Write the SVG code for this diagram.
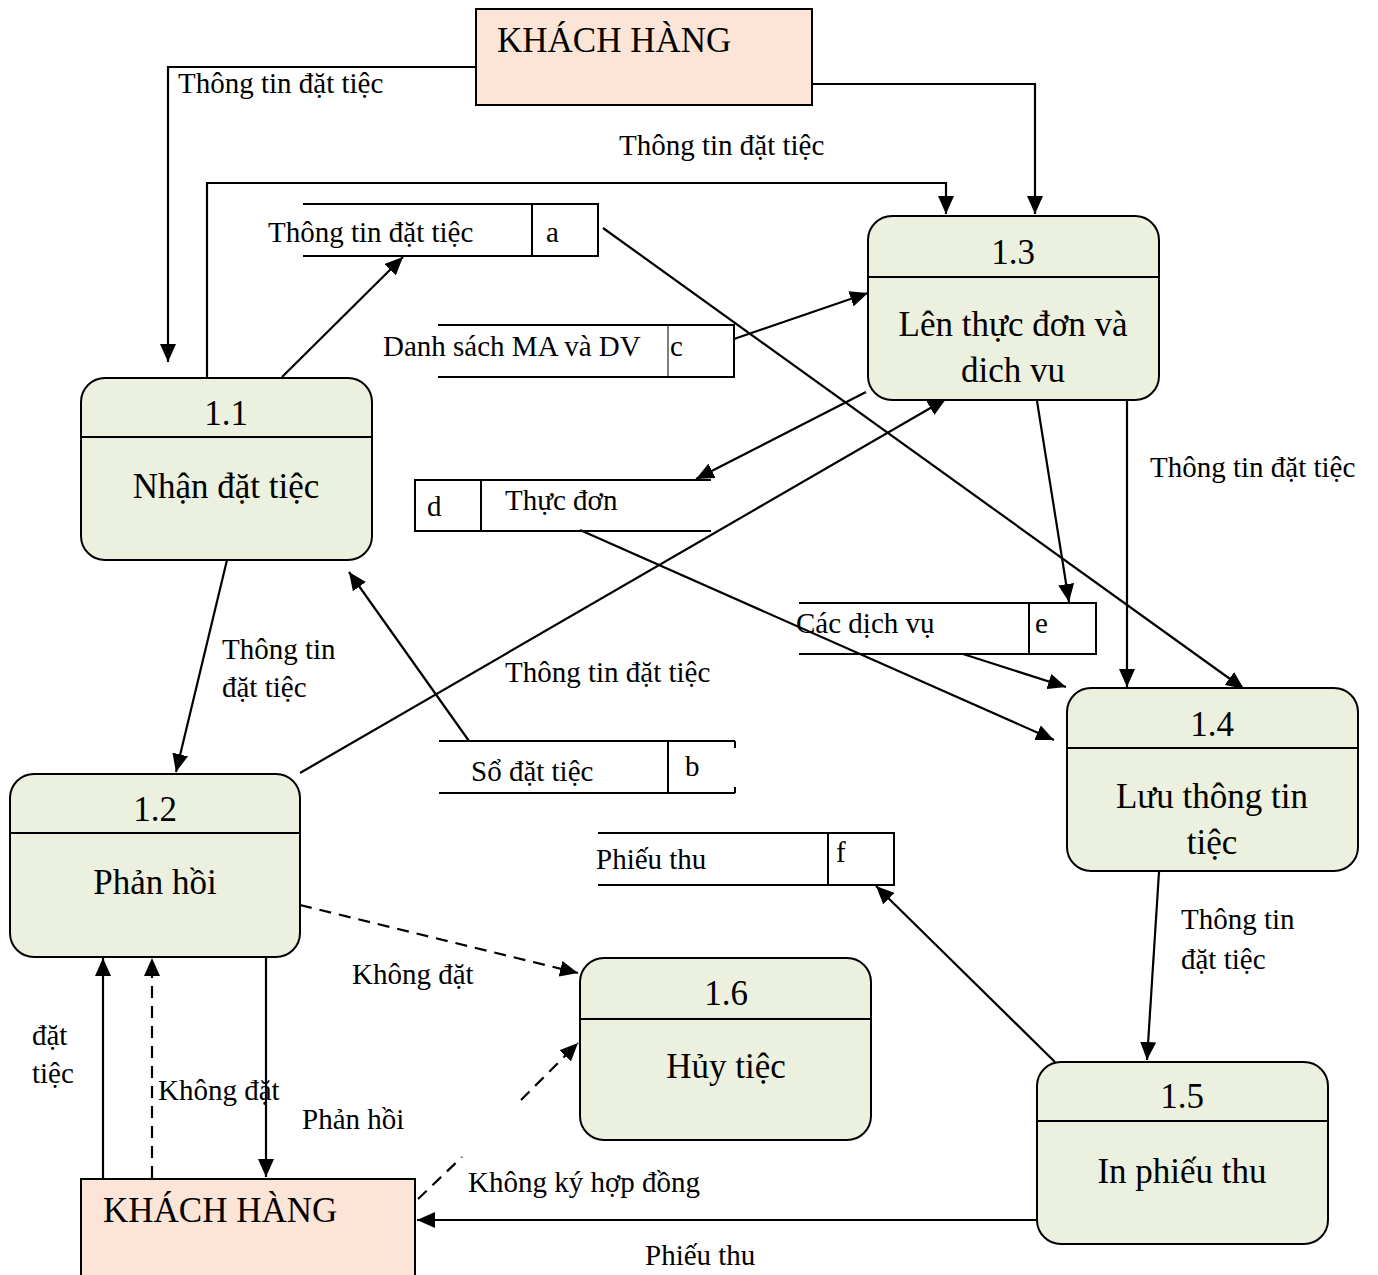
<svg xmlns="http://www.w3.org/2000/svg" width="1378" height="1275" viewBox="0 0 1378 1275">
<style>
text{font-family:"Liberation Serif","Times New Roman",serif;fill:#000}
.lb{font-size:29px}
.bt{font-size:35px}
.ent{fill:#fce4d6;stroke:#000;stroke-width:2}
.proc{fill:#ebf1de;stroke:#000;stroke-width:2}
.st{fill:none;stroke:#000;stroke-width:2}
.cn{fill:none;stroke:#000;stroke-width:2.2}
.da{stroke-dasharray:12 8}
</style>
<defs>
<marker id="ah" markerUnits="userSpaceOnUse" markerWidth="20" markerHeight="16" refX="18" refY="8" orient="auto">
<path d="M0,0 L18,8 L0,16 Z" fill="#000"/>
</marker>
</defs>
<rect width="1378" height="1275" fill="#fff"/>

<g id="connectors">
<path class="cn" d="M476,67 H168 V362" marker-end="url(#ah)"/>
<path class="cn" d="M812,84 H1035 V214" marker-end="url(#ah)"/>
<path class="cn" d="M207,377 V183 H946 V214" marker-end="url(#ah)"/>
<line class="cn" x1="282" y1="377" x2="403" y2="257" marker-end="url(#ah)"/>
<line class="cn" x1="603" y1="228" x2="1244" y2="689" marker-end="url(#ah)"/>
<line class="cn" x1="734" y1="339" x2="868" y2="293" marker-end="url(#ah)"/>
<line class="cn" x1="866" y1="392" x2="696" y2="479" marker-end="url(#ah)"/>
<line class="cn" x1="300" y1="773" x2="946" y2="399" marker-end="url(#ah)"/>
<line class="cn" x1="580" y1="530" x2="1054" y2="740" marker-end="url(#ah)"/>
<line class="cn" x1="1037" y1="401" x2="1069" y2="602" marker-end="url(#ah)"/>
<line class="cn" x1="963" y1="654" x2="1066" y2="687" marker-end="url(#ah)"/>
<line class="cn" x1="1127" y1="401" x2="1127" y2="687" marker-end="url(#ah)"/>
<line class="cn" x1="227" y1="560" x2="176" y2="772" marker-end="url(#ah)"/>
<line class="cn" x1="469" y1="741" x2="349" y2="572" marker-end="url(#ah)"/>
<line class="cn" x1="1159" y1="872" x2="1147" y2="1060" marker-end="url(#ah)"/>
<line class="cn" x1="1055" y1="1062" x2="876" y2="886" marker-end="url(#ah)"/>
<line class="cn" x1="1037" y1="1220" x2="417" y2="1220" marker-end="url(#ah)"/>
<line class="cn da" x1="300" y1="905" x2="578" y2="973" marker-end="url(#ah)"/>
<line class="cn da" x1="418" y1="1199" x2="462" y2="1157"/>
<line class="cn da" x1="521" y1="1100" x2="578" y2="1043" marker-end="url(#ah)"/>
<line class="cn" x1="103" y1="1178" x2="103" y2="958" marker-end="url(#ah)"/>
<line class="cn da" x1="152" y1="1178" x2="152" y2="958" marker-end="url(#ah)"/>
<line class="cn" x1="266" y1="958" x2="266" y2="1177" marker-end="url(#ah)"/>
</g>

<g id="labels">
<text class="lb" x="178" y="93">Thông tin đặt tiệc</text>
<text class="lb" x="619" y="155">Thông tin đặt tiệc</text>
<text class="lb" x="1150" y="477">Thông tin đặt tiệc</text>
<text class="lb" x="222" y="659">Thông tin</text>
<text class="lb" x="222" y="697">đặt tiệc</text>
<text class="lb" x="505" y="682">Thông tin đặt tiệc</text>
<text class="lb" x="1181" y="929">Thông tin</text>
<text class="lb" x="1181" y="969">đặt tiệc</text>
<text class="lb" x="352" y="984">Không đặt</text>
<text class="lb" x="32" y="1045">đặt</text>
<text class="lb" x="32" y="1083">tiệc</text>
<text class="lb" x="158" y="1100">Không đặt</text>
<text class="lb" x="302" y="1129">Phản hồi</text>
<text class="lb" x="468" y="1192">Không ký hợp đồng</text>
<text class="lb" x="645" y="1265">Phiếu thu</text>
</g>

<g id="store-a">
<path class="st" d="M303,204 H598 V256 H303 M532,204 V256"/>
<text class="lb" x="268" y="242">Thông tin đặt tiệc</text>
<text class="lb" x="546" y="242">a</text>
</g>
<g id="store-c">
<path class="st" d="M438,325 H734 V377 H438"/>
<line x1="668" y1="325" x2="668" y2="377" stroke="#000" stroke-width="1"/>
<text class="lb" x="383" y="356">Danh sách MA và DV</text>
<text class="lb" x="670" y="356">c</text>
</g>
<g id="store-d">
<path class="st" d="M711,480 H415 V531 H711 M481,480 V531"/>
<text class="lb" x="427" y="516">d</text>
<text class="lb" x="505" y="510">Thực đơn</text>
</g>
<g id="store-e">
<path class="st" d="M799,603 H1096 V654 H799 M1029,603 V654"/>
<text class="lb" x="796" y="633">Các dịch vụ</text>
<text class="lb" x="1035" y="633">e</text>
</g>
<g id="store-b">
<path class="st" d="M439,741 H735 M439,793 H735 M668,741 V793 M735,741 V748 M735,787 V793"/>
<text class="lb" x="471" y="781">Sổ đặt tiệc</text>
<text class="lb" x="685" y="776">b</text>
</g>
<g id="store-f">
<path class="st" d="M598,833 H894 V885 H598 M828,833 V885"/>
<text class="lb" x="596" y="869">Phiếu thu</text>
<text class="lb" x="836" y="862">f</text>
</g>

<g id="kh-top">
<rect class="ent" x="476" y="9" width="336" height="96"/>
<text class="bt" x="497" y="52">KHÁCH HÀNG</text>
</g>
<g id="kh-bottom">
<rect class="ent" x="81" y="1179" width="334" height="110"/>
<text class="bt" x="103" y="1222">KHÁCH HÀNG</text>
</g>

<g id="p1-1">
<rect class="proc" x="81" y="378" width="291" height="182" rx="24"/>
<line class="st" x1="81" y1="437" x2="372" y2="437"/>
<text class="bt" x="226" y="425" text-anchor="middle">1.1</text>
<text class="bt" x="226" y="498" text-anchor="middle">Nhận đặt tiệc</text>
</g>
<g id="p1-2">
<rect class="proc" x="10" y="774" width="290" height="183" rx="24"/>
<line class="st" x1="10" y1="833" x2="300" y2="833"/>
<text class="bt" x="155" y="821" text-anchor="middle">1.2</text>
<text class="bt" x="155" y="894" text-anchor="middle">Phản hồi</text>
</g>
<g id="p1-3">
<rect class="proc" x="868" y="216" width="291" height="184" rx="24"/>
<line class="st" x1="868" y1="277" x2="1159" y2="277"/>
<text class="bt" x="1013" y="264" text-anchor="middle">1.3</text>
<text class="bt" x="1013" y="336" text-anchor="middle">Lên thực đơn và</text>
<text class="bt" x="1013" y="382" text-anchor="middle">dich vu</text>
</g>
<g id="p1-4">
<rect class="proc" x="1067" y="688" width="291" height="183" rx="24"/>
<line class="st" x1="1067" y1="748" x2="1358" y2="748"/>
<text class="bt" x="1212" y="736" text-anchor="middle">1.4</text>
<text class="bt" x="1212" y="808" text-anchor="middle">Lưu thông tin</text>
<text class="bt" x="1212" y="854" text-anchor="middle">tiệc</text>
</g>
<g id="p1-5">
<rect class="proc" x="1037" y="1062" width="291" height="182" rx="24"/>
<line class="st" x1="1037" y1="1121" x2="1328" y2="1121"/>
<text class="bt" x="1182" y="1108" text-anchor="middle">1.5</text>
<text class="bt" x="1182" y="1183" text-anchor="middle">In phiếu thu</text>
</g>
<g id="p1-6">
<rect class="proc" x="580" y="958" width="291" height="182" rx="24"/>
<line class="st" x1="580" y1="1019" x2="871" y2="1019"/>
<text class="bt" x="726" y="1005" text-anchor="middle">1.6</text>
<text class="bt" x="726" y="1078" text-anchor="middle">Hủy tiệc</text>
</g>
</svg>
